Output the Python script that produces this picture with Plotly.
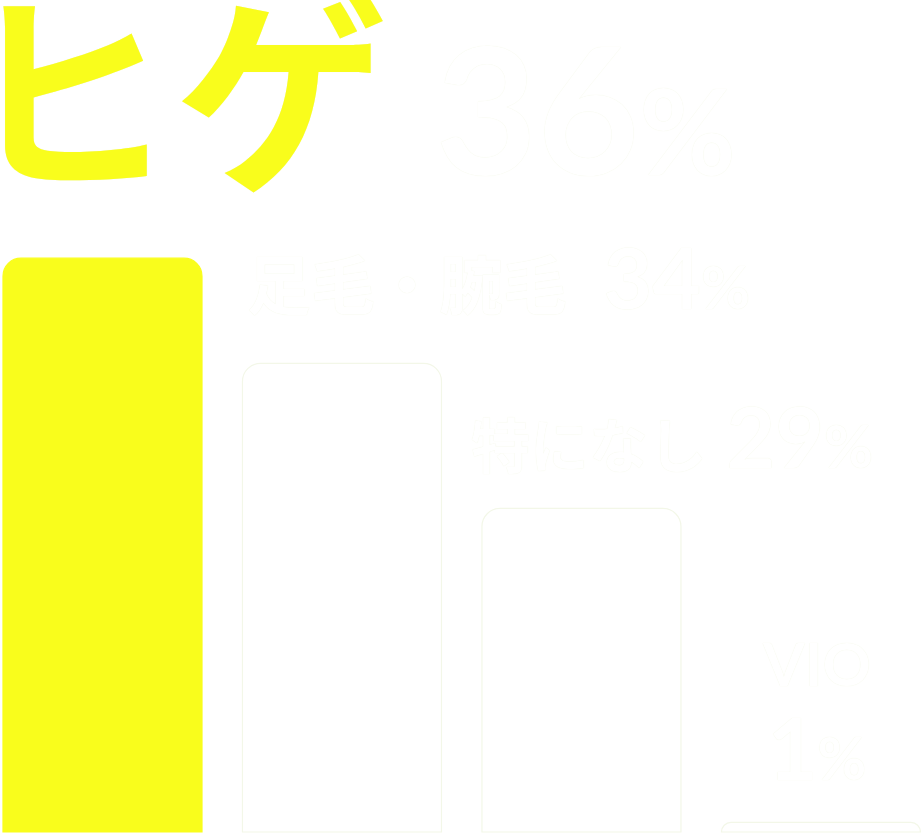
""" Share of body areas: bar infographic (ヒゲ / 足毛・腕毛 / 特になし / VIO) """

import plotly.graph_objects as go

# data
areas = ["ヒゲ", "足毛・腕毛", "特になし", "VIO"]
shares = [36, 34, 29, 1]            # percent shown in the labels
bar_heights = [36, 29.4, 20.3, 0.6]  # drawn bar heights

YELLOW = "#f9fd1c"
PALE = "#ffffff"
EDGE = "#f3f7e8"
FONT = "Lato, Noto Sans CJK JP"

bar_colors = [YELLOW, PALE, PALE, PALE]

fig = go.Figure(
    go.Bar(
        x=list(range(len(areas))),
        y=bar_heights,
        width=0.831,
        marker=dict(
            color=bar_colors,
            line=dict(color=[YELLOW, EDGE, EDGE, EDGE], width=1.2),
            cornerradius=18,
        ),
        hoverinfo="skip",
    )
)

# label sizes per bar: (japanese, gap, digits, percent sign)
sizes = [(214, 190, 176, 118), (64, 150, 84, 60), (59, 80, 84, 60), (60, 0, 86, 60)]
xshifts = [-44, 2, -13, -4]
yshifts = [35, 20, 20, 22]

for i, (name, pct, h) in enumerate(zip(areas, shares, bar_heights)):
    jp, gap, dg, ps = sizes[i]
    num = (f"<span style='font-size:{dg}px'>{pct}</span>"
           f"<span style='font-size:{ps}px'>%</span>")
    if i == 0:
        text = (f"<span style='color:{YELLOW};font-size:{jp}px'>{name}</span>"
                f"<span style='font-size:{gap}px'> </span>" + num)
    elif i < 3:
        text = (f"<span style='font-size:{jp}px'>{name}</span>"
                f"<span style='font-size:{gap}px'> </span>" + num)
    else:
        text = f"<span style='font-size:{jp}px'>{name}</span><br>" + num
    fig.add_annotation(
        x=i - 0.415 if i < 3 else i,
        y=h,
        xref="x",
        yref="y",
        xanchor="left" if i < 3 else "center",
        yanchor="bottom",
        xshift=xshifts[i],
        yshift=yshifts[i],
        text=text,
        showarrow=False,
        align="left" if i < 3 else "center",
        font=dict(family=FONT, size=72, color=PALE, weight="bold",
                  shadow="0px 0px 1px #eef3dc"),
    )

fig.update_layout(
    width=922,
    height=834,
    margin=dict(l=0, r=0, t=0, b=0),
    paper_bgcolor="white",
    plot_bgcolor="white",
    showlegend=False,
    xaxis=dict(range=[-0.428, 3.422], visible=False, fixedrange=True),
    yaxis=dict(range=[-0.125, 52.2], visible=False, fixedrange=True),
)

fig.write_html("out.html", config={"displayModeBar": False},
               post_script="document.body.style.margin='0';")
